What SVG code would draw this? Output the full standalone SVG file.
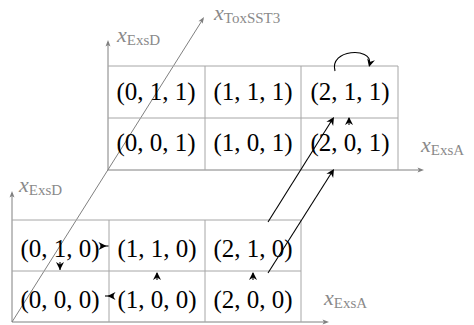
<svg xmlns="http://www.w3.org/2000/svg" xmlns:xlink="http://www.w3.org/1999/xlink" width="474" height="325" viewBox="0 0 474 325">
<style>
.grid{stroke:#a6a6a6;stroke-width:1;fill:none}
.axis{stroke:#808080;stroke-width:1;fill:none}
.ax{fill:#808080}
.lbl{font-family:'Liberation Serif','DejaVu Serif','Times New Roman',serif;fill:#8a8a8a}
.lx{font-style:italic;font-size:22px}
.ls{font-size:15px}
.cell{font-family:'Liberation Serif','DejaVu Serif','Times New Roman',serif;font-size:25px;fill:#000;text-anchor:middle}
.edge{stroke:#000;stroke-width:1.1;fill:none}
.ah{fill:#000}
</style>
<defs>
<path id="ah" d="M0,0 L-8,-4 L-5.5,0 L-8,4 Z"/>
<path id="gah" d="M0,0 L-6.5,-2.5 L-5,0 L-6.5,2.5 Z"/>
</defs>
<g id="axes">
<line class="axis" x1="108" y1="170" x2="108" y2="42"/>
<use href="#gah" class="ax" transform="translate(108,40) rotate(-90)"/>
<line class="axis" x1="108" y1="170" x2="421" y2="170"/>
<use href="#gah" class="ax" transform="translate(424,170)"/>
<line class="axis" x1="12" y1="322" x2="12" y2="193"/>
<use href="#gah" class="ax" transform="translate(12,191) rotate(-90)"/>
<line class="axis" x1="12" y1="322" x2="326" y2="322"/>
<use href="#gah" class="ax" transform="translate(329,322)"/>
<line class="axis" x1="12" y1="322" x2="203" y2="19"/>
<use href="#gah" class="ax" transform="translate(204,17) rotate(-57.8)"/>
<text class="lbl" x="117" y="42"><tspan class="lx">x</tspan><tspan class="ls" dy="3">ExsD</tspan></text>
<text class="lbl" x="214" y="20"><tspan class="lx">x</tspan><tspan class="ls" dy="3">ToxSST3</tspan></text>
<text class="lbl" x="421" y="152"><tspan class="lx">x</tspan><tspan class="ls" dy="3">ExsA</tspan></text>
<text class="lbl" x="19" y="192"><tspan class="lx">x</tspan><tspan class="ls" dy="3">ExsD</tspan></text>
<text class="lbl" x="324" y="305"><tspan class="lx">x</tspan><tspan class="ls" dy="3">ExsA</tspan></text>
</g>
<g id="grid-upper">
<path class="grid" d="M108,66 H398 V170 M108,118 H398 M205,66 V170 M301,66 V170"/>
</g>
<g id="grid-lower">
<path class="grid" d="M12,220 H301 V322 M12,271 H301 M109,220 V322 M205,220 V322"/>
</g>
<g id="n011"><text class="cell" x="156" y="100">(0, 1, 1)</text></g>
<g id="n111"><text class="cell" x="253" y="100">(1, 1, 1)</text></g>
<g id="n211"><text class="cell" x="350" y="100">(2, 1, 1)</text></g>
<g id="n001"><text class="cell" x="156" y="151">(0, 0, 1)</text></g>
<g id="n101"><text class="cell" x="253" y="151">(1, 0, 1)</text></g>
<g id="n201"><text class="cell" x="350" y="151">(2, 0, 1)</text></g>
<g id="n010"><text class="cell" x="60" y="257">(0, 1, 0)</text></g>
<g id="n110"><text class="cell" x="157" y="257">(1, 1, 0)</text></g>
<g id="n210"><text class="cell" x="253" y="257">(2, 1, 0)</text></g>
<g id="n000"><text class="cell" x="60" y="308">(0, 0, 0)</text></g>
<g id="n100"><text class="cell" x="157" y="308">(1, 0, 0)</text></g>
<g id="n200"><text class="cell" x="253" y="308">(2, 0, 0)</text></g>
<g id="connectors">
<line class="edge" x1="100" y1="246" x2="108.5" y2="246"/>
<use href="#ah" class="ah" transform="translate(106.5,246)"/>
<line class="edge" x1="114" y1="296" x2="105" y2="296"/>
<use href="#ah" class="ah" transform="translate(107.5,296) rotate(180)"/>
<line class="edge" x1="60" y1="262" x2="60" y2="270"/>
<use href="#ah" class="ah" transform="translate(60,270) rotate(90)"/>
<line class="edge" x1="157" y1="280" x2="157" y2="273"/>
<use href="#ah" class="ah" transform="translate(157,272) rotate(-90)"/>
<line class="edge" x1="253" y1="280" x2="253" y2="273"/>
<use href="#ah" class="ah" transform="translate(253,272) rotate(-90)"/>
<line class="edge" x1="349" y1="125" x2="349" y2="118"/>
<use href="#ah" class="ah" transform="translate(349,117) rotate(-90)"/>
<line class="edge" x1="268" y1="222" x2="332" y2="120"/>
<use href="#ah" class="ah" transform="translate(334,117) rotate(-58)"/>
<line class="edge" x1="268" y1="273" x2="332" y2="172"/>
<use href="#ah" class="ah" transform="translate(334,169) rotate(-58)"/>
<path class="edge" d="M335,71 C329,49 372,47 369.5,63"/>
<use href="#ah" class="ah" transform="translate(369,67) rotate(105)"/>
</g>
</svg>
